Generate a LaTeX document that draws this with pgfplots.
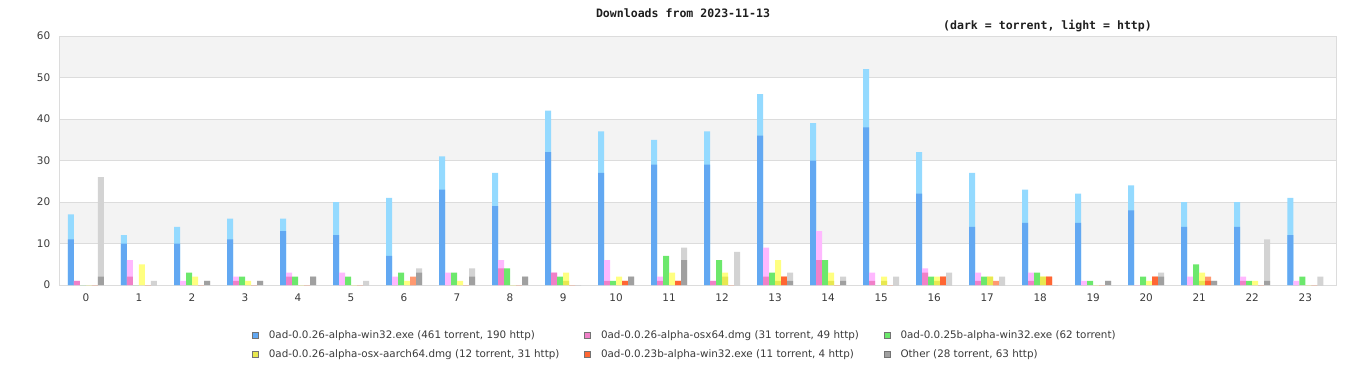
\documentclass[border=0pt]{standalone}
\usepackage{fontspec}
\setmainfont{DejaVu Sans}
\newfontfamily\monof{DejaVu Sans Mono}
\usepackage{pgfplots}
\usepackage{pgfplotstable}
\pgfplotsset{compat=1.18}
\definecolor{winD}{RGB}{98,168,242}
\definecolor{winL}{RGB}{148,218,255}
\definecolor{osxD}{RGB}{240,128,200}
\definecolor{osxL}{RGB}{255,184,255}
\definecolor{grn}{RGB}{108,232,108}
\definecolor{yelD}{RGB}{232,232,80}
\definecolor{yelL}{RGB}{255,255,128}
\definecolor{orD}{RGB}{255,102,51}
\definecolor{orL}{RGB}{255,153,112}
\definecolor{gryD}{RGB}{160,160,160}
\definecolor{gryL}{RGB}{211,211,211}
\definecolor{gridc}{RGB}{220,220,220}
\definecolor{bandc}{RGB}{243,243,243}
\definecolor{labc}{RGB}{58,58,58}
\definecolor{titc}{RGB}{30,30,30}

\pgfplotstableread{
h  wt wa ot oa g yt ya rt ra xt xa
0  11 17 1 1  0 0 0 0 0 2 26
1  10 12 2 6  0 0 5 0 0 0 1
2  10 14 0 1  3 0 2 0 0 1 1
3  11 16 1 2  2 0 1 0 0 1 1
4  13 16 2 3  2 0 0 0 0 2 2
5  12 20 0 3  2 0 0 0 0 0 1
6  7  21 0 2  3 0 1 0 2 3 4
7  23 31 0 3  3 0 1 0 0 2 4
8  19 27 4 6  4 0 0 0 0 2 2
9  32 42 3 3  2 1 3 0 0 0 0
10 27 37 1 6  1 0 2 1 1 2 2
11 29 35 1 2  7 0 3 1 1 6 9
12 29 37 1 1  6 2 3 0 0 0 8
13 36 46 2 9  3 1 6 2 2 1 3
14 30 39 6 13 6 1 3 0 0 1 2
15 38 52 1 3  0 1 2 0 0 0 2
16 22 32 3 4  2 1 2 2 2 0 3
17 14 27 1 3  2 2 2 0 1 0 2
18 15 23 1 3  3 2 2 2 2 0 0
19 15 22 0 1  1 0 0 0 0 1 1
20 18 24 0 0  2 0 1 2 2 2 3
21 14 20 0 2  5 1 3 1 2 1 1
22 14 20 1 2  1 0 1 0 0 1 11
23 12 21 0 1  2 0 0 0 0 0 2
}\data

\pgfplotsset{bb/.style={ybar, bar width=6bp, draw=none}}

\begin{document}
\begin{tikzpicture}
\useasboundingbox (-60bp,-95bp) rectangle (1306bp,285bp);
\fill[bandc] (0bp,41.5bp) rectangle (1276bp,83bp);
\fill[bandc] (0bp,124.5bp) rectangle (1276bp,166bp);
\fill[bandc] (0bp,207.5bp) rectangle (1276bp,249bp);
\begin{axis}[
  at={(0bp,0bp)}, anchor=south west,
  scale only axis, width=1276bp, height=249bp,
  xmin=-0.49, xmax=23.58, ymin=0, ymax=60,
  xtick={0,...,23}, ytick={0,10,...,60},
  ymajorgrids, major grid style={draw=gridc, line width=1bp},
  axis line style={draw=gridc, line width=1bp},
  major tick length=0pt,
  tick label style={font=\fontsize{10.5}{12}\selectfont, text=labc},
  yticklabel style={anchor=east, inner sep=0pt, xshift=-9.5bp},
  xticklabel style={anchor=north, inner sep=0pt, yshift=-9bp},
  /pgf/number format/assume math mode=true,
  legend columns=3,
  legend cell align=left,
  legend style={at={(axis description cs:0.1505,-0.173)}, anchor=north west,
    draw=none, fill=none, inner sep=0pt, text=labc,
    font=\fontsize{10.4}{12}\selectfont,
    /tikz/every odd column/.append style={column sep=8bp},
    /tikz/every even column/.append style={column sep=23bp},
    row sep=6bp},
  legend image code/.code={\draw[#1, draw=black!55, line width=0.6bp] (0bp,-3bp) rectangle (6bp,3bp);},
]
\addplot[bb, bar shift=-15bp, fill=winL, forget plot] table[x=h, y=wa] {\data};
\addplot[bb, bar shift=-15bp, fill=winD] table[x=h, y=wt] {\data};
\addlegendentry{0ad-0.0.26-alpha-win32.exe (461 torrent, 190 http)}

\addplot[bb, bar shift=-9bp, fill=osxL, forget plot] table[x=h, y=oa] {\data};
\addplot[bb, bar shift=-9bp, fill=osxD] table[x=h, y=ot] {\data};
\addlegendentry{0ad-0.0.26-alpha-osx64.dmg (31 torrent, 49 http)}

\addplot[bb, bar shift=-3bp, fill=grn] table[x=h, y=g] {\data};
\addlegendentry{0ad-0.0.25b-alpha-win32.exe (62 torrent)}

\addplot[bb, bar shift=3bp, fill=yelL, forget plot] table[x=h, y=ya] {\data};
\addplot[bb, bar shift=3bp, fill=yelD] table[x=h, y=yt] {\data};
\addlegendentry{0ad-0.0.26-alpha-osx-aarch64.dmg (12 torrent, 31 http)}

\addplot[bb, bar shift=9bp, fill=orL, forget plot] table[x=h, y=ra] {\data};
\addplot[bb, bar shift=9bp, fill=orD] table[x=h, y=rt] {\data};
\addlegendentry{0ad-0.0.23b-alpha-win32.exe (11 torrent, 4 http)}

\addplot[bb, bar shift=15bp, fill=gryL, forget plot] table[x=h, y=xa] {\data};
\addplot[bb, bar shift=15bp, fill=gryD] table[x=h, y=xt] {\data};
\addlegendentry{Other (28 torrent, 63 http)}
\end{axis}
\node[font=\monof\bfseries\fontsize{11.6}{13}\selectfont, text=titc] at (623bp,272bp) {Downloads from 2023-11-13};
\node[font=\monof\bfseries\fontsize{11.6}{13}\selectfont, text=titc] at (987.5bp,259bp) {(dark = torrent, light = http)};
\end{tikzpicture}
\end{document}
